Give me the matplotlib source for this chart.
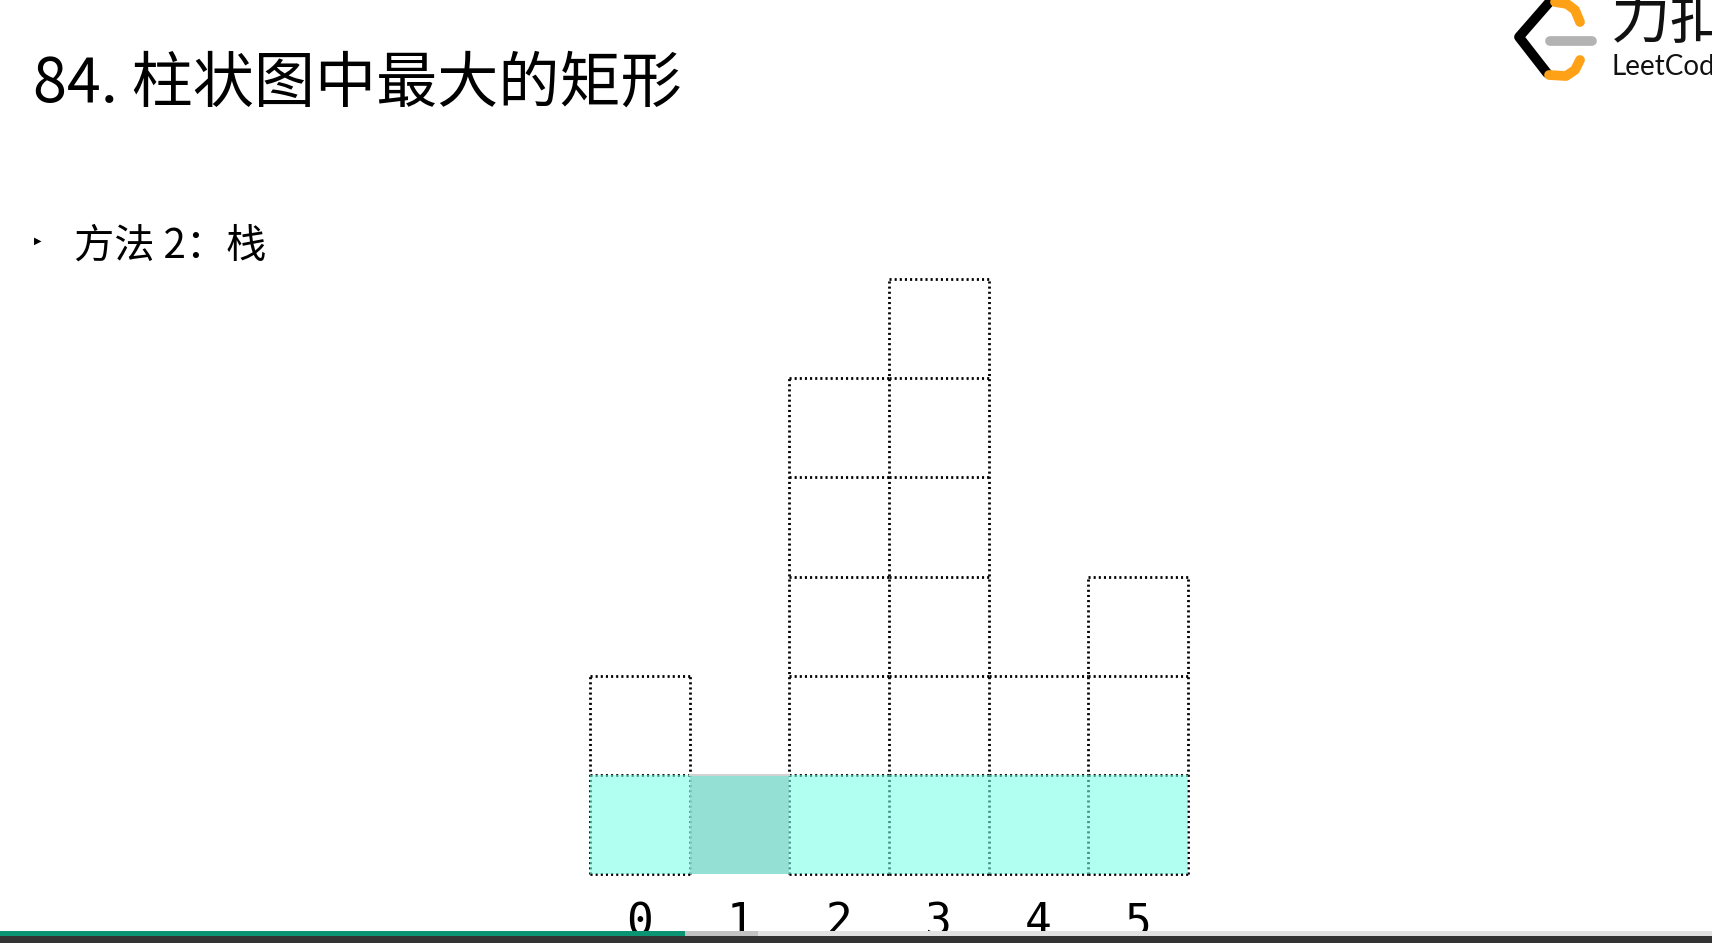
import matplotlib
matplotlib.use("Agg")
import matplotlib.pyplot as plt

# data
heights = [2, 1, 5, 6, 2, 3]
labels = ["0", "1", "2", "3", "4", "5"]
current = 1              # bar being popped from the stack
rect_left, rect_right = 0, 5
rect_height = 1          # area = 1 * 6
played, buffered = 0.40, 0.443

title = "84. 柱状图中最大的矩形"
bullet = "方法 2：栈"

CJK = ["Noto Sans CJK SC", "DejaVu Sans"]
W, H = 1712, 943

fig = plt.figure(figsize=(W / 100, H / 100), dpi=100)
fig.patch.set_facecolor("white")

# --- histogram grid ---
ax = fig.add_axes([590 / W, 69 / H, 598 / W, 595 / H])
ax.set_xlim(-0.5, len(heights) - 0.5)
ax.set_ylim(0, max(heights))
ax.axis("off")

dot = dict(color="black", lw=2.0, linestyle=(0, (0.75, 1.1)), clip_on=False, zorder=2)

# horizontal cell edges
for i, h in enumerate(heights):
    if i == current:
        continue
    for j in range(h + 1):
        ax.plot([i - 0.5, i + 0.5], [j, j], **dot)

# vertical cell edges, shared between neighbours
for b in range(len(heights) + 1):
    left = heights[b - 1] if b > 0 else 0
    right = heights[b] if b < len(heights) else 0
    ax.plot([b - 0.5, b - 0.5], [0, max(left, right)], **dot)

# candidate rectangle (translucent, drawn over the dots)
ax.bar(range(rect_left, rect_right + 1), [rect_height] * (rect_right - rect_left + 1),
       width=1.0, align="center", color=(0.47, 1.0, 0.9), alpha=0.58,
       linewidth=0, zorder=3)
ax.bar(current, heights[current], width=1.0, color=(0.55, 0.84, 0.80), alpha=0.75,
       linewidth=0, zorder=4)
ax.plot([current - 0.5, current + 0.5], [heights[current]] * 2,
        color="#d2d2d2", lw=1.5, zorder=4, clip_on=False)

for i, lab in enumerate(labels):
    ax.text(i, -0.49, lab, ha="center", va="center", fontsize=32,
            family="DejaVu Sans Mono", clip_on=False)

# --- slide text ---
fig.text(33 / W, 1 - 102 / H, title, fontsize=44, family=CJK, va="baseline")
fig.text(38 / W, 1 - 241 / H, "\u25B6", fontsize=7, family="DejaVu Sans",
         ha="center", va="center")
fig.text(74 / W, 1 - 258 / H, bullet, fontsize=29, family=CJK, va="baseline")

# --- logo top right ---
lg = fig.add_axes([0, 0, 1, 1], zorder=1)
lg.set_xlim(0, W)
lg.set_ylim(H, 0)
lg.axis("off")
lg.plot([1553, 1519, 1547], [-2, 37, 73], color="black", lw=7,
        solid_capstyle="round", solid_joinstyle="round")
lg.plot([1555, 1567, 1575, 1580], [2, 4, 10, 22], color="#FFA116", lw=7,
        solid_capstyle="round", solid_joinstyle="round")
lg.plot([1549, 1566, 1575, 1580], [75, 76, 70, 60], color="#FFA116", lw=7,
        solid_capstyle="round", solid_joinstyle="round")
lg.plot([1550, 1592], [41, 41], color="#b3b3b3", lw=7, solid_capstyle="round")
lg.text(1611, 38, "力扣", fontsize=43, family=CJK, fontweight="light",
        va="baseline", color="#111111")
lg.text(1612, 75, "LeetCode", fontsize=20, family="Lato",
        va="baseline", color="#111111")

# --- video progress bar ---
pb = fig.add_axes([0, 0, 1, 12 / H], zorder=5)
pb.set_xlim(0, 1)
pb.set_ylim(0, 12)
pb.axis("off")
pb.barh(9.5, 1.0, height=5, left=0, color="#e2e2e2")
pb.barh(9.5, buffered, height=5, left=0, color="#c3c3c3")
pb.barh(9.5, played, height=5, left=0, color="#0a9474")
pb.barh(3.5, 1.0, height=7, left=0, color="#333333")

fig.savefig("out.png", dpi=100)
